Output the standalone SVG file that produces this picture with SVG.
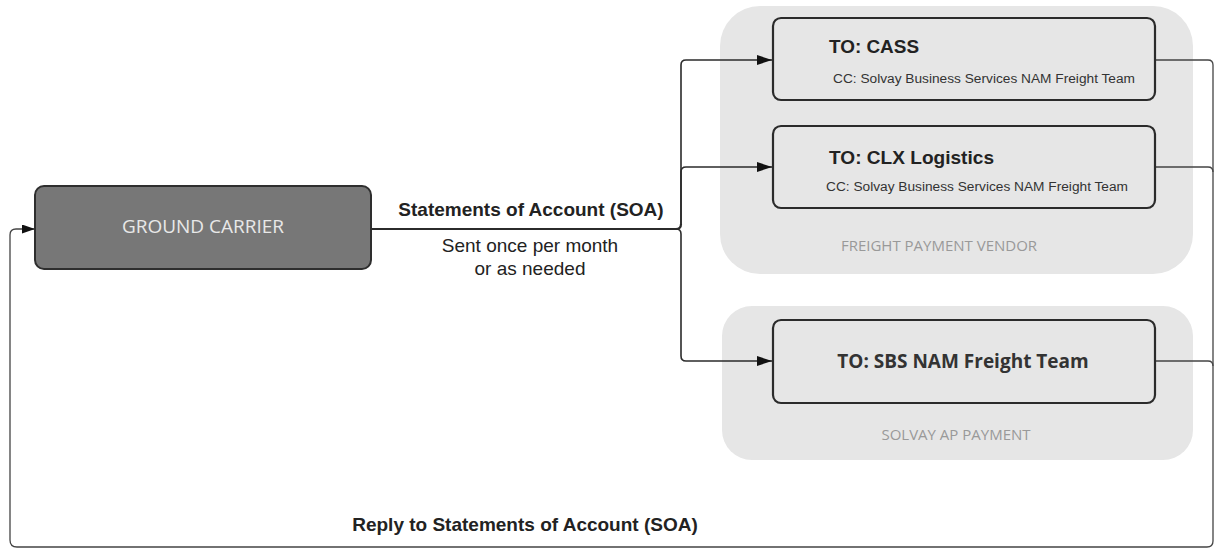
<svg xmlns="http://www.w3.org/2000/svg" width="1217" height="550" viewBox="0 0 1217 550">
<defs>
<style>
.grp{fill:#e6e6e6;stroke:none}
.grplbl{font-family:"Open Sans",sans-serif;font-size:15px;fill:#999;text-anchor:middle}
.node{fill:#e6e6e6;stroke:#2b2b2b;stroke-width:2.2}
.to{font-family:"Liberation Sans",Arial,sans-serif;font-size:18px;font-weight:bold;fill:#222}
.cc{font-family:"Liberation Sans",Arial,sans-serif;font-size:12.5px;fill:#333}
.conn{fill:none;stroke:#2b2b2b;stroke-width:1.6}
.ret{fill:none;stroke:#444;stroke-width:1.3}
.lbl{font-family:"Liberation Sans",Arial,sans-serif;font-size:19px;fill:#222;text-anchor:middle}
</style>
<marker id="arr" viewBox="0 0 15 10" refX="15" refY="5" markerWidth="15" markerHeight="10" markerUnits="userSpaceOnUse" orient="auto">
<path d="M0,0 L15,5 L0,10 Z" fill="#111"/>
</marker>
<marker id="arr2" viewBox="0 0 13 9" refX="13" refY="4.5" markerWidth="13" markerHeight="9" markerUnits="userSpaceOnUse" orient="auto">
<path d="M0,0 L13,4.5 L0,9 Z" fill="#111"/>
</marker>
</defs>
<rect width="1217" height="550" fill="#fff"/>

<g id="freight-payment-vendor">
<rect class="grp" x="720" y="6" width="473" height="268" rx="40"/>
<text class="grplbl" x="939" y="251">FREIGHT PAYMENT VENDOR</text>
</g>
<g id="solvay-ap-payment">
<rect class="grp" x="722" y="306" width="471" height="154" rx="30"/>
<text class="grplbl" x="956" y="440">SOLVAY AP PAYMENT</text>
</g>

<g id="connectors">
<path class="conn" d="M681,224 V65 Q681,60 686,60 H772" marker-end="url(#arr)"/>
<path class="conn" d="M681,224 V172 Q681,167 686,167 H772" marker-end="url(#arr)"/>
<path class="conn" d="M676,229 Q681,229 681,234 V356 Q681,361 686,361 H772" marker-end="url(#arr)"/>
<path class="conn" d="M371,229 H676 Q681,229 681,224" style="stroke-width:2.2"/>
<path class="ret" d="M1155,60 H1208 Q1213,60 1213,65 V541 Q1213,547 1207,547 H17 Q10,547 10,540 V235 Q10,229 16,229 H35" marker-end="url(#arr2)"/>
<path class="ret" d="M1155,167 H1208 Q1213,167 1213,172"/>
<path class="ret" d="M1155,361 H1208 Q1213,361 1213,366"/>
</g>

<g id="ground-carrier">
<rect x="35" y="186" width="336" height="83" rx="9" fill="#777" stroke="#2e2e2e" stroke-width="2"/>
<text x="203" y="233" font-family="'Open Sans',sans-serif" font-size="19" fill="#e8e8e8" text-anchor="middle">GROUND CARRIER</text>
</g>

<g id="to-cass">
<rect class="node" x="773" y="18" width="382" height="82" rx="8"/>
<text class="to" x="829" y="53" textLength="90" lengthAdjust="spacingAndGlyphs">TO: CASS</text>
<text class="cc" x="833" y="83" textLength="302" lengthAdjust="spacingAndGlyphs">CC: Solvay Business Services NAM Freight Team</text>
</g>

<g id="to-clx">
<rect class="node" x="773" y="126" width="382" height="82" rx="8"/>
<text class="to" x="829" y="164" textLength="165" lengthAdjust="spacingAndGlyphs">TO: CLX Logistics</text>
<text class="cc" x="826" y="191" textLength="302" lengthAdjust="spacingAndGlyphs">CC: Solvay Business Services NAM Freight Team</text>
</g>

<g id="to-sbs">
<rect class="node" x="773" y="320" width="382" height="83" rx="8"/>
<text x="963" y="368" font-family="'Open Sans',sans-serif" font-size="19" font-weight="bold" fill="#333" text-anchor="middle">TO: SBS NAM Freight Team</text>
</g>

<g id="labels">
<text class="lbl" x="531" y="216" font-weight="bold">Statements of Account (SOA)</text>
<text class="lbl" x="530" y="252" fill="#444">Sent once per month</text>
<text class="lbl" x="530" y="275" fill="#444">or as needed</text>
<text class="lbl" x="525" y="531" font-weight="bold">Reply to Statements of Account (SOA)</text>
</g>
</svg>
